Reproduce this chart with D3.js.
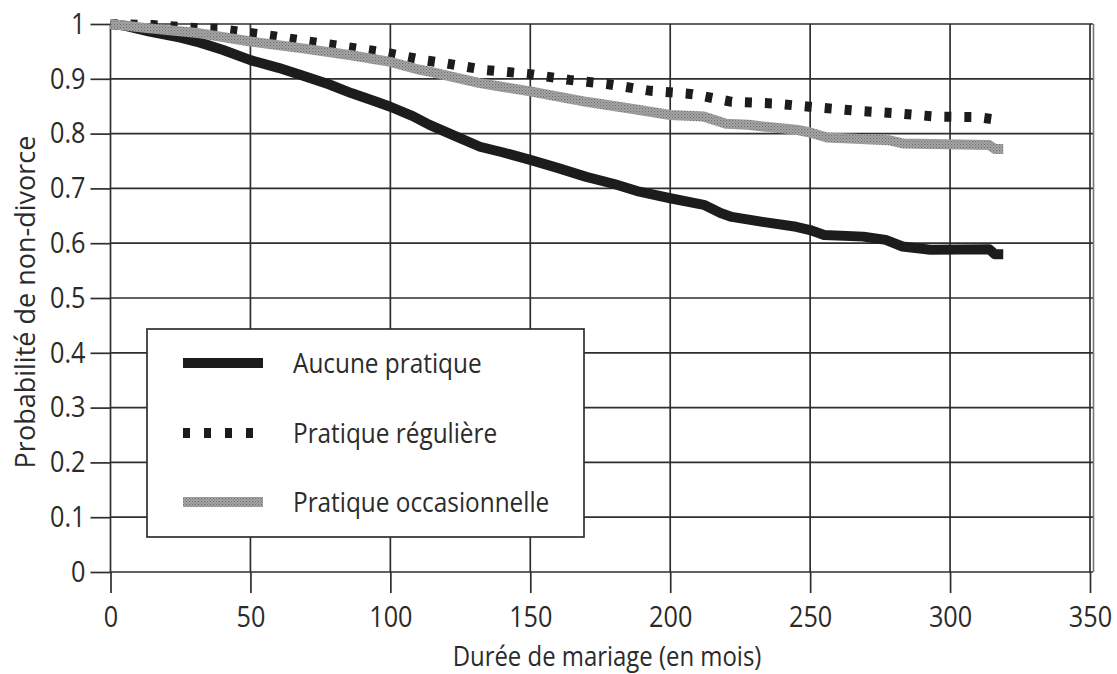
<!DOCTYPE html>
<html><head><meta charset="utf-8">
<script src="https://cdn.jsdelivr.net/npm/d3@7"></script>
<style>
body{margin:0;background:#fff}
text{font-family:"Open Sans","Noto Sans",sans-serif;fill:#2b2b2b;font-weight:400}
</style>
</head><body>
<svg id="c" width="1117" height="674"></svg>
<script>
// ---- data ----
const seriesNames = ["Aucune pratique", "Pratique régulière", "Pratique occasionnelle"];
const aucuneMonths = [0,5,14,25,32,40,50,60,68,78,86,94,100,108,114,122,132,140,150,160,170,180,189,200,212,218,222,233,245,250,255,269,277,283,293,314,316,319];
const aucuneProb   = [1,0.997,0.986,0.975,0.966,0.953,0.934,0.92,0.907,0.89,0.874,0.86,0.849,0.832,0.816,0.798,0.776,0.766,0.752,0.737,0.721,0.708,0.694,0.682,0.67,0.655,0.648,0.639,0.63,0.624,0.615,0.612,0.606,0.594,0.588,0.589,0.58,0.58];
const reguliereMonths = [0,15,32,39,46,54,68,83,98,112,120,134,149,164,178,193,208,222,237,252,266,281,295,310,317,319];
const reguliereProb   = [1,0.998,0.992,0.991,0.986,0.981,0.970,0.959,0.948,0.934,0.928,0.916,0.909,0.898,0.890,0.878,0.872,0.858,0.855,0.848,0.842,0.837,0.831,0.830,0.825,0.825];
const occasMonths = [0,14,32,50,68,86,100,110,114,132,150,170,189,200,212,220,228,233,245,250,256,278,283,314,316,319];
const occasProb   = [1,0.992,0.983,0.968,0.956,0.943,0.931,0.917,0.913,0.892,0.877,0.858,0.843,0.834,0.831,0.818,0.816,0.813,0.807,0.802,0.793,0.788,0.782,0.779,0.772,0.772];
const xTicks = [0,50,100,150,200,250,300,350];
const yTicks = [0,0.1,0.2,0.3,0.4,0.5,0.6,0.7,0.8,0.9,1];
const yTickLabels = ["0","0.1","0.2","0.3","0.4","0.5","0.6","0.7","0.8","0.9","1"];
const xTitle = "Durée de mariage (en mois)";
const yTitle = "Probabilité de non-divorce";

// ---- layout ----
const svg = d3.select("#c");
const x = d3.scaleLinear().domain([0,350]).range([110.5,1090]);
const y = d3.scaleLinear().domain([0,1]).range([572,24]);
const gridColor = "#2e2e2e";
const sx = 0.87; // horizontal compression to mimic the narrow humanist face

const defs = svg.append("defs");
const pat = defs.append("pattern").attr("id","stipple").attr("patternUnits","userSpaceOnUse")
  .attr("width",3).attr("height",3);
pat.append("rect").attr("width",3).attr("height",3).attr("fill","#a9a9a9");
pat.append("rect").attr("x",0).attr("y",0).attr("width",1.2).attr("height",1.2).attr("fill","#6f6f6f");
pat.append("rect").attr("x",1.5).attr("y",1.5).attr("width",1.2).attr("height",1.2).attr("fill","#7d7d7d");

// horizontal gridlines
svg.append("g").selectAll("line").data(yTicks).join("line")
  .attr("x1",x(0)).attr("x2",x(350)+3).attr("y1",d=>y(d)).attr("y2",d=>y(d))
  .attr("stroke",gridColor).attr("stroke-width",1.7);
// vertical gridlines
svg.append("g").selectAll("line").data(xTicks).join("line")
  .attr("x1",d=>x(d)).attr("x2",d=>x(d)).attr("y1",y(1)).attr("y2",y(0))
  .attr("stroke",gridColor).attr("stroke-width",1.7);
// double right border
svg.append("line").attr("x1",x(350)+3.5).attr("x2",x(350)+3.5).attr("y1",y(1)).attr("y2",y(0))
  .attr("stroke","#777").attr("stroke-width",1.6);

// axes
const yAxis = d3.axisLeft(y).tickValues(yTicks).tickSize(20).tickPadding(6)
  .tickFormat((d,i)=>yTickLabels[i]);
const gy = svg.append("g").attr("transform",`translate(${x(0)},0)`).call(yAxis);
gy.select(".domain").remove();
gy.selectAll("line").attr("stroke",gridColor).attr("stroke-width",1.7);
gy.selectAll("text").attr("font-size",29).attr("fill","#2b2b2b").attr("font-family",null)
  .attr("x",-25/sx).attr("transform",`scale(${sx},1)`);

const xAxis = d3.axisBottom(x).tickValues(xTicks).tickSize(21).tickPadding(13);
const gx = svg.append("g").attr("transform",`translate(0,${y(0)})`).call(xAxis);
gx.select(".domain").remove();
gx.selectAll("line").attr("stroke",gridColor).attr("stroke-width",1.7);
gx.selectAll("text").attr("font-size",29).attr("fill","#2b2b2b").attr("font-family",null)
  .attr("transform",`scale(${sx},1)`);

// titles
svg.append("text").attr("x",607/sx).attr("y",666).attr("text-anchor","middle")
  .attr("transform",`scale(${sx},1)`).attr("font-size",27.5).text(xTitle);
svg.append("text").attr("transform",`translate(35,${302}) rotate(-90)`).attr("text-anchor","middle")
  .attr("font-size",27).text(yTitle);

// curves
const line = d3.line().x(d=>x(d[0])).y(d=>y(d[1]));
const zip = (a,b)=>a.map((v,i)=>[v,b[i]]);
svg.append("path").datum(zip(aucuneMonths,aucuneProb)).attr("d",line)
  .attr("fill","none").attr("stroke","#1c1c1c").attr("stroke-width",10).attr("stroke-linejoin","round");
svg.append("path").datum(zip(reguliereMonths,reguliereProb)).attr("d",line)
  .attr("fill","none").attr("stroke","#1c1c1c").attr("stroke-width",10).attr("stroke-dasharray","7,13");
svg.append("path").datum(zip(occasMonths,occasProb)).attr("d",line)
  .attr("fill","none").attr("stroke","url(#stipple)").attr("stroke-width",10).attr("stroke-linejoin","round");

// legend
const lg = svg.append("g");
lg.append("rect").attr("x",147).attr("y",329).attr("width",437).attr("height",208)
  .attr("fill","#fff").attr("stroke",gridColor).attr("stroke-width",1.7);
const rows = [363,433,502];
const styles = [
  {stroke:"#1c1c1c", dash:null},
  {stroke:"#1c1c1c", dash:"7,14"},
  {stroke:"url(#stipple)", dash:null}
];
seriesNames.forEach((n,i)=>{
  lg.append("line").attr("x1",183).attr("x2",i===1?256:263).attr("y1",rows[i]).attr("y2",rows[i])
    .attr("stroke",styles[i].stroke).attr("stroke-width",10).attr("stroke-dasharray",styles[i].dash);
  lg.append("text").attr("x",293/sx).attr("y",rows[i]+10).attr("transform",`scale(${sx},1)`)
    .attr("font-size",28).text(n);
});
</script>
</body></html>
